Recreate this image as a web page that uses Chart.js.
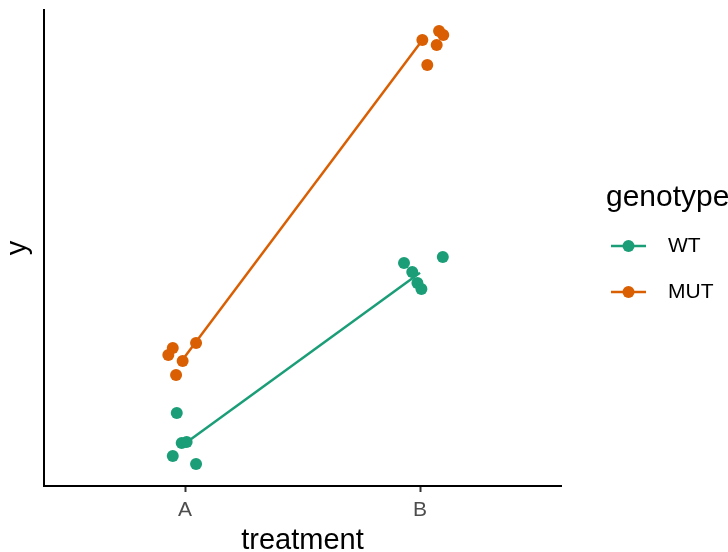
<!DOCTYPE html>
<html>
<head>
<meta charset="utf-8">
<script src="https://cdn.jsdelivr.net/npm/chart.js@4/dist/chart.umd.min.js"></script>
<style>
  html, body { margin: 0; padding: 0; background: #fff; }
  #wrap { width: 728px; height: 552px; }
</style>
</head>
<body>
<div id="wrap"><canvas id="chart" width="728" height="552"></canvas></div>
<script>
const categories = ['A', 'B'];
const genotypes = ['WT', 'MUT'];
const genoColors = ['#1b9e77', '#d95f02'];

// jittered positions (1 = A, 2 = B) and y values
const wtX  = [0.965, 0.986, 1.007, 0.948, 1.047, 1.932, 1.967, 1.989, 2.006, 2.097];
const wtY  = [7.3, 4.3, 4.4, 3.0, 2.2, 22.3, 21.4, 20.3, 19.7, 22.9];
const mutX = [0.948, 0.929, 0.990, 0.962, 1.047, 2.010, 2.071, 2.081, 2.099, 2.031];
const mutY = [13.8, 13.1, 12.5, 11.1, 14.3, 44.6, 44.1, 45.5, 45.1, 42.1];

const FONT = "'Liberation Sans', Arial, Helvetica, sans-serif";

function points(xs, ys) {
  return xs.map((x, i) => ({ x: x, y: ys[i] }));
}

// mean per treatment, placed at the category position
function means(xs, ys) {
  return categories.map((c, k) => {
    const vals = ys.filter((v, i) => Math.round(xs[i]) === k + 1);
    return { x: k + 1, y: vals.reduce((a, b) => a + b, 0) / vals.length };
  });
}

const seriesX = [wtX, mutX];
const seriesY = [wtY, mutY];

const datasets = [];
genotypes.forEach((g, i) => {
  datasets.push({
    label: g + ' mean',
    data: means(seriesX[i], seriesY[i]),
    showLine: true,
    borderColor: genoColors[i],
    borderWidth: 2.5,
    pointRadius: 0,
    order: 2
  });
  datasets.push({
    label: g,
    data: points(seriesX[i], seriesY[i]),
    showLine: false,
    backgroundColor: genoColors[i],
    borderColor: genoColors[i],
    borderWidth: 0,
    pointRadius: 6,
    order: 1
  });
});

// ggplot-style legend drawn to the right of the panel
const sideLegend = {
  id: 'sideLegend',
  afterDraw(chart) {
    const c = chart.ctx;
    c.save();
    c.fillStyle = '#000';
    c.textBaseline = 'middle';
    c.font = '30px ' + FONT;
    c.fillText('genotype', 606, 198);
    genotypes.forEach((g, i) => {
      const y = 246 + i * 46;
      c.strokeStyle = genoColors[i];
      c.lineWidth = 2.5;
      c.beginPath();
      c.moveTo(611, y);
      c.lineTo(646, y);
      c.stroke();
      c.fillStyle = genoColors[i];
      c.beginPath();
      c.arc(628.5, y, 6, 0, Math.PI * 2);
      c.fill();
      c.fillStyle = '#000';
      c.font = '21px ' + FONT;
      c.fillText(g, 668, y);
    });
    c.restore();
  }
};

new Chart(document.getElementById('chart').getContext('2d'), {
  type: 'scatter',
  data: { datasets: datasets },
  options: {
    responsive: false,
    animation: false,
    devicePixelRatio: 1,
    layout: { padding: { top: 10, right: 167, left: 0, bottom: 0 } },
    plugins: {
      legend: { display: false },
      tooltip: { enabled: false }
    },
    scales: {
      x: {
        type: 'linear',
        min: 0.4,
        max: 2.6,
        afterBuildTicks: (scale) => {
          scale.ticks = categories.map((c, k) => ({ value: k + 1 }));
        },
        afterFit: (scale) => { scale.height = 66; },
        ticks: {
          callback: (v) => categories[Math.round(v) - 1] || '',
          color: '#4d4d4d',
          padding: 6,
          font: { family: FONT, size: 21 }
        },
        grid: { display: true, drawOnChartArea: false, drawTicks: true, tickLength: 6, tickWidth: 2, tickColor: '#333333' },
        border: { display: true, color: '#000', width: 2 },
        title: {
          display: true,
          text: 'treatment',
          color: '#000',
          font: { family: FONT, size: 29, lineHeight: 1 },
          padding: { top: 0, bottom: -3 }
        }
      },
      y: {
        min: 0,
        max: 47.6,
        afterFit: (scale) => { scale.width = 44; },
        ticks: { display: false },
        grid: { display: false },
        border: { display: true, color: '#000', width: 2 },
        title: {
          display: true,
          text: 'y',
          color: '#000',
          font: { family: FONT, size: 29, lineHeight: 1 },
          padding: { top: 3, bottom: 0 }
        }
      }
    }
  },
  plugins: [sideLegend]
});
</script>
</body>
</html>
